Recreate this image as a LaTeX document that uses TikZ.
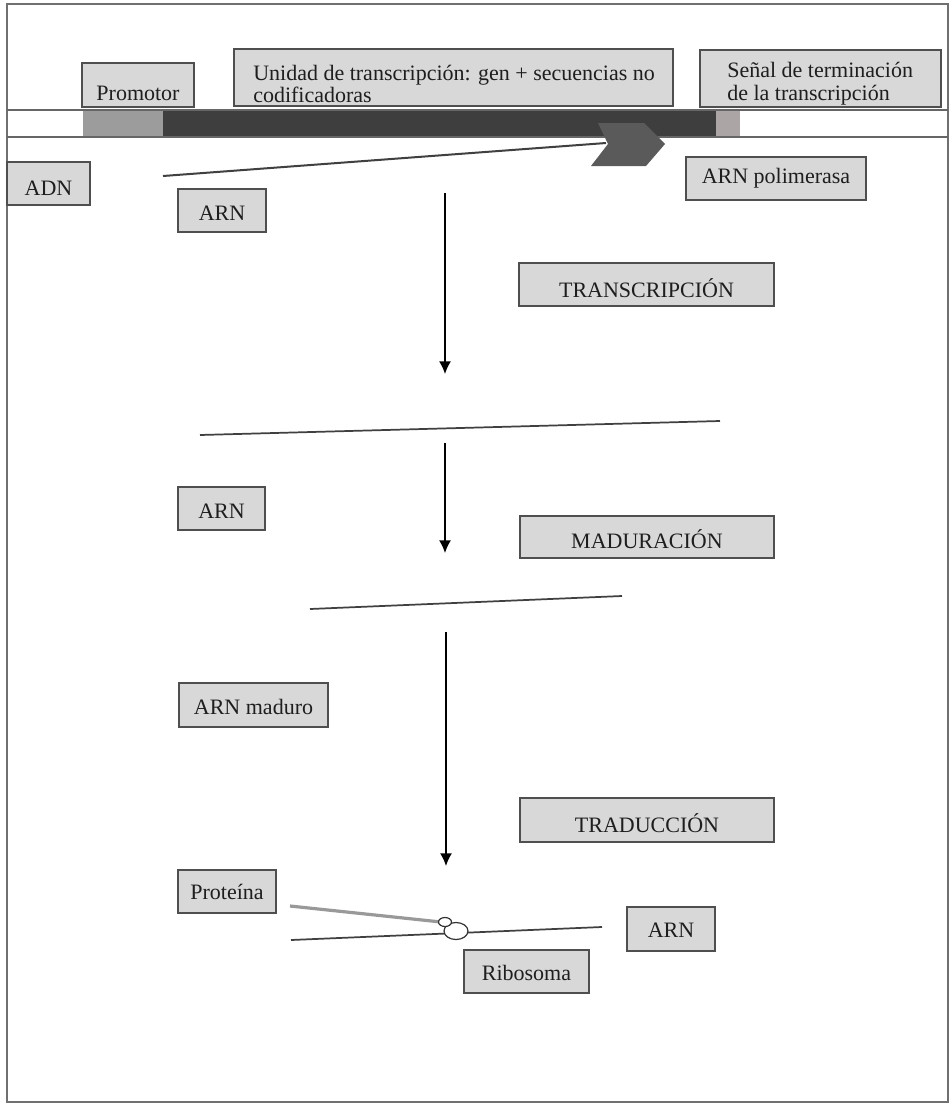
\documentclass[tikz,border=0pt]{standalone}
\usepackage{fontspec}
\setmainfont{Liberation Serif}
\usetikzlibrary{arrows.meta,shapes.geometric}
\definecolor{boxfill}{HTML}{D8D8D8}
\definecolor{boxline}{HTML}{4F4F4F}
\definecolor{bardark}{HTML}{3E3E3E}
\definecolor{barlight}{HTML}{9C9C9C}
\definecolor{barend}{HTML}{ABA5A5}
\definecolor{chev}{HTML}{5A5A5A}
\definecolor{ink}{HTML}{1E1E1E}
\definecolor{frameline}{HTML}{707070}
\tikzset{
  gbox/.style={draw=boxline, fill=boxfill, line width=0.9pt, inner sep=0pt, outer sep=0pt},
  lbl/.style={font=\fontsize{16.5}{19}\selectfont, text=ink, inner sep=0pt},
  conn/.style={draw=black!75, line width=1.3pt},
  arr/.style={draw=black, line width=1.1pt, -{Latex[length=9.5pt,width=9pt]}},
  rib/.style={draw=black!80, fill=white, line width=0.9pt, ellipse, inner sep=0pt},
}
% box: name x1 y1 x2 y2 baseline text
\newcommand\gb[7]{%
  \node[gbox, minimum width={(#4-#2)*0.75pt}, minimum height={(#5-#3)*0.75pt}] (#1) at ({(#2+#4)/2},{(#3+#5)/2}) {};
  \node[lbl, anchor=base] (#1-t) at ({(#2+#4)/2},#6) {#7};}
% empty box: name x1 y1 x2 y2
\newcommand\gbe[5]{%
  \node[gbox, minimum width={(#4-#2)*0.75pt}, minimum height={(#5-#3)*0.75pt}] (#1) at ({(#2+#4)/2},{(#3+#5)/2}) {};}
\begin{document}
\begin{tikzpicture}[x=0.75pt,y=-0.75pt]
\useasboundingbox (0,0) rectangle (952,1104);
\fill[white] (0,0) rectangle (952,1104);

% ---------- frame ----------
\draw[frameline, line width=0.8pt] (7,4) rectangle (948,1102);

% ---------- DNA bar ----------
\fill[barlight] (83,110) rectangle (163,137);
\fill[bardark] (163,110) rectangle (716,137);
\fill[barend] (716,110) rectangle (740,137);
\coordinate (dnaT1) at (7,110);  \coordinate (dnaT2) at (948,110);
\coordinate (dnaB1) at (7,137);  \coordinate (dnaB2) at (948,137);
\draw[black!60, line width=0.9pt] (dnaT1) -- (dnaT2);
\draw[black!60, line width=0.9pt] (dnaB1) -- (dnaB2);

% ---------- top labels ----------
\gb{prom}{82}{63}{194}{107}{100}{Promotor}
\gbe{unid}{234}{49}{673}{106}
\node[lbl, anchor=base west] (unid-t1) at (253,80) {Unidad de transcripción: gen + secuencias no};
\node[lbl, anchor=base west] (unid-t2) at (253,102) {codificadoras};
\gbe{senal}{700}{50}{941}{107}
\node[lbl, anchor=base west] (senal-t1) at (727,77) {Señal de terminación};
\node[lbl, anchor=base west] (senal-t2) at (727,100) {de la transcripción};

% ---------- RNA strand and polymerase ----------
\coordinate (rnaS) at (163,176);
\coordinate (chevL) at (606,143);
\draw[black!75, line width=1.5pt] (rnaS) -- (chevL);
\fill[chev] (598,123) -- (644,123) -- (665,144) -- (646,166) -- (591,166) -- (608,144) -- cycle;

\gb{adn}{7}{162}{90}{205}{195}{ADN}
\gb{arn1}{178}{189}{266}{232}{220}{ARN}
\gb{pol}{686}{157}{866}{200}{183}{ARN polimerasa}

% ---------- transcription ----------
\coordinate (a1s) at (445,193);
\coordinate (a1e) at (445,374);
\draw[arr] (a1s) -- (a1e);
\gb{trans}{519}{263}{774}{306}{297}{TRANSCRIPCIÓN}

% ---------- maturation ----------
\coordinate (l2a) at (200,435);
\coordinate (l2b) at (720,421);
\draw[conn] (l2a) -- (l2b);
\coordinate (a2s) at (445,443);
\coordinate (a2e) at (445,553);
\draw[arr] (a2s) -- (a2e);
\gb{arn2}{178}{487}{265}{530}{518}{ARN}
\gb{madu}{520}{516}{774}{558}{548}{MADURACIÓN}

% ---------- translation ----------
\coordinate (l3a) at (310,609);
\coordinate (l3b) at (622,596);
\draw[conn] (l3a) -- (l3b);
\coordinate (a3s) at (446,632);
\coordinate (a3e) at (446,866);
\draw[arr] (a3s) -- (a3e);
\gb{arnm}{179}{683}{328}{727}{714}{ARN maduro}
\gb{trad}{520}{798}{774}{842}{832}{TRADUCCIÓN}

% ---------- ribosome ----------
\gb{prot}{178}{870}{276}{913}{899}{Proteína}
\gb{arn3}{627}{907}{715}{951}{937}{ARN}
\gb{ribo}{464}{950}{589}{993}{980}{Ribosoma}
\coordinate (m1) at (291,940);
\coordinate (m2) at (602,927);
\coordinate (p1) at (290,906);
\coordinate (p2) at (441,922);
\draw[black!75, line width=1.3pt] (m1) -- (m2);
\draw[black!40, line width=2.4pt] (p1) -- (p2);
\node[rib, minimum width={24*0.75pt}, minimum height={17*0.75pt}] (rbig) at (456,931) {};
\node[rib, minimum width={13*0.75pt}, minimum height={9*0.75pt}] (rsmall) at (445,922) {};
\end{tikzpicture}
\end{document}
